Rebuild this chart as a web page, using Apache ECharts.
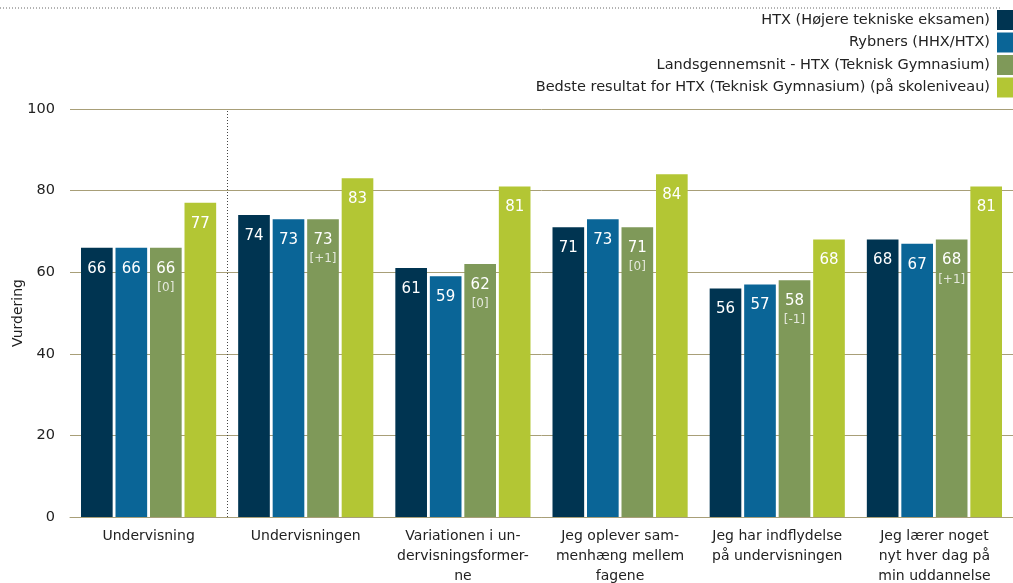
<!DOCTYPE html>
<html>
<head>
<meta charset="utf-8">
<script src="https://cdn.jsdelivr.net/npm/echarts@6/dist/echarts.min.js"></script>
<style>
  html, body { margin: 0; padding: 0; background: #fff; }
  #main { width: 1013px; height: 583px; }
</style>
</head>
<body>
<div id="main"></div>
<script>
var categories = [
    'Undervisning',
    'Undervisningen',
    'Variationen i un-\ndervisningsformer-\nne',
    'Jeg oplever sam-\nmenhæng mellem\nfagene',
    'Jeg har indflydelse\npå undervisningen',
    'Jeg lærer noget\nnyt hver dag på\nmin uddannelse'
];
var seriesNames = [
    'HTX (Højere tekniske eksamen)',
    'Rybners (HHX/HTX)',
    'Landsgennemsnit - HTX (Teknisk Gymnasium)',
    'Bedste resultat for HTX (Teknisk Gymnasium) (på skoleniveau)'
];
var htx = [66, 74, 61, 71, 56, 68];
var rybners = [66, 73, 59, 73, 57, 67];
var landsgennemsnit = [66, 73, 62, 71, 58, 68];
var bedste = [77, 83, 81, 84, 68, 81];
var aendring = ['[0]', '[+1]', '[0]', '[0]', '[-1]', '[+1]'];
var colors = ['#003451', '#0a6597', '#7f9959', '#b3c634'];
var yTicks = [0, 20, 40, 60, 80, 100];
// separator after the first (overall) category
var separatorAfter = 1;

var font = 'DejaVu Sans';
var chart = echarts.init(document.getElementById('main'));

function barSeries(name, data, color, withChange) {
    return {
        name: name,
        type: 'bar',
        data: data,
        barGap: '9%',
        barCategoryGap: '14%',
        itemStyle: { color: color },
        label: {
            show: true,
            position: 'insideTop',
            distance: 11,
            fontFamily: font,
            color: '#fff',
            fontSize: 15,
            lineHeight: 20,
            formatter: withChange ? function (p) {
                return p.value + '\n{c|' + aendring[p.dataIndex] + '}';
            } : '{c}',
            rich: {
                c: { fontFamily: font, fontSize: 12, color: '#e4e8dc', lineHeight: 18 }
            }
        }
    };
}

chart.setOption({
    animation: false,
    color: colors,
    textStyle: { fontFamily: font },
    graphic: [{
        type: 'line',
        shape: { x1: 0, y1: 8, x2: 1000, y2: 8 },
        style: { stroke: '#666', lineWidth: 1, lineDash: [1, 2] }
    }],
    legend: {
        orient: 'vertical',
        right: 0,
        top: 10,
        padding: 0,
        align: 'right',
        icon: 'rect',
        itemWidth: 16,
        itemHeight: 20,
        itemGap: 2.5,
        data: seriesNames,
        textStyle: { fontFamily: font, fontSize: 14.5, color: '#222', padding: [0, 2, 0, 0] }
    },
    grid: { left: 70, right: 0, top: 109, bottom: 66, outerBoundsMode: 'none' },
    xAxis: [{
        type: 'category',
        data: categories,
        axisTick: { show: false },
        axisLine: { lineStyle: { color: '#a89f78' } },
        axisLabel: { fontFamily: font, fontSize: 14, color: '#222', lineHeight: 20, margin: 9, interval: 0 }
    }, {
        type: 'value',
        min: 0,
        max: categories.length,
        show: false
    }],
    yAxis: {
        type: 'value',
        min: yTicks[0],
        max: yTicks[yTicks.length - 1],
        interval: 20,
        name: 'Vurdering',
        nameLocation: 'middle',
        nameGap: 45,
        nameMoveOverlap: false,
        nameTextStyle: { fontFamily: font, fontSize: 14, color: '#222' },
        axisLine: { show: false },
        axisTick: { show: false },
        axisLabel: { fontFamily: font, fontSize: 14.5, color: '#222', margin: 15 },
        splitLine: { lineStyle: { color: '#a89f78', width: 1 } }
    },
    series: [
        barSeries(seriesNames[0], htx, colors[0], false),
        barSeries(seriesNames[1], rybners, colors[1], false),
        barSeries(seriesNames[2], landsgennemsnit, colors[2], true),
        barSeries(seriesNames[3], bedste, colors[3], false),
        {
            name: 'separator',
            type: 'line',
            xAxisIndex: 1,
            data: [],
            silent: true,
            markLine: {
                silent: true,
                symbol: 'none',
                label: { show: false },
                lineStyle: { color: '#444', type: [1, 2], width: 1 },
                data: [{ xAxis: separatorAfter }]
            }
        }
    ]
});
</script>
</body>
</html>
